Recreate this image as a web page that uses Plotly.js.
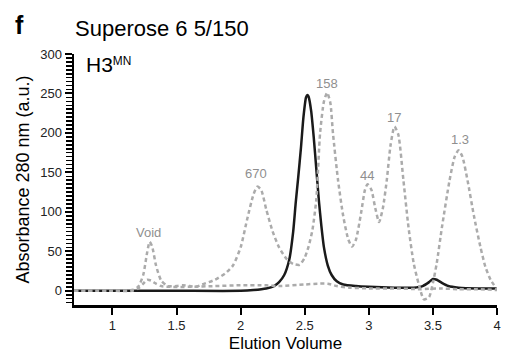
<!DOCTYPE html>
<html>
<head>
<meta charset="utf-8">
<script src="https://cdn.plot.ly/plotly-3.0.1.min.js"></script>
<style>html,body{margin:0;padding:0;background:#fff;}#chart{width:506px;height:356px;}</style>
</head>
<body>
<div id="chart"></div>
<script>
// H3 MN sample trace (solid black)
const sampleX = [0.7, 1.0, 1.5, 2.0, 2.1, 2.2, 2.26, 2.30, 2.34, 2.38, 2.41, 2.43, 2.45, 2.47, 2.49, 2.51, 2.52, 2.53, 2.55, 2.57, 2.59, 2.61, 2.63, 2.65, 2.68, 2.71, 2.75, 2.8, 2.9, 3.0, 3.2, 3.35, 3.42, 3.47, 3.50, 3.53, 3.57, 3.62, 3.7, 3.85, 4.0];
const sampleY = [0, 0, 0, 0, 1, 3, 6, 11, 20, 40, 75, 112, 145, 180, 220, 245, 248, 246, 228, 195, 155, 115, 82, 55, 32, 20, 12, 8, 6, 5, 4, 4, 6, 11, 15, 14, 10, 6, 4, 3, 3];

// Gel filtration standards trace (dashed grey)
const stdX = [0.7, 1.0, 1.15, 1.2, 1.24, 1.27, 1.29, 1.31, 1.34, 1.38, 1.43, 1.5, 1.55, 1.6, 1.65, 1.7, 1.8, 1.88, 1.94, 2.0, 2.05, 2.1, 2.13, 2.16, 2.2, 2.25, 2.3, 2.36, 2.41, 2.46, 2.5, 2.53, 2.56, 2.59, 2.62, 2.65, 2.675, 2.7, 2.72, 2.76, 2.8, 2.84, 2.87, 2.9, 2.94, 2.97, 2.99, 3.02, 3.05, 3.08, 3.11, 3.14, 3.17, 3.2, 3.23, 3.27, 3.31, 3.35, 3.39, 3.43, 3.47, 3.5, 3.53, 3.57, 3.63, 3.67, 3.70, 3.73, 3.77, 3.82, 3.87, 3.91, 3.95, 4.0];
const stdY = [0, 0, 1, 5, 20, 48, 62, 56, 32, 13, 6, 6, 7, 6, 5, 8, 14, 22, 32, 55, 90, 122, 132, 128, 103, 75, 55, 40, 34, 33, 42, 56, 77, 115, 200, 240, 251, 238, 200, 140, 95, 65, 56, 65, 99, 128, 135, 128, 105, 87, 105, 140, 185, 208, 198, 140, 80, 35, 8, -11, -8, 10, 35, 80, 140, 170, 178, 170, 140, 95, 56, 30, 14, 2];

// Second dashed grey trace (baseline run)
const baseX = [0.7, 1.0, 1.15, 1.2, 1.24, 1.27, 1.3, 1.34, 1.38, 1.45, 1.6, 1.8, 2.0, 2.2, 2.3, 2.5, 2.6, 2.68, 2.75, 2.85, 3.0, 3.2, 3.4, 3.55, 3.7, 3.85, 4.0];
const baseY = [0, 0, 0, 3, 9, 14, 13, 9, 6, 5, 5, 6, 7, 7, 6, 8, 9, 9, 6, 4, 3, 3, 2, 3, 2, 2, 1];

// Peak labels (kDa)
const peakLabels = ["Void", "670", "158", "44", "17", "1.3"];
const peakLabelX = [1.285, 2.12, 2.67, 2.985, 3.2, 3.71];
const peakLabelY = [74, 148, 263, 146, 219, 192];

const xTicks = [1, 1.5, 2, 2.5, 3, 3.5, 4];
const xTickText = ["1", "1.5", "2", "2.5", "3", "3.5", "4"];

const grey = "#ababab";
const traces = [
  {x: sampleX, y: sampleY, type: "scatter", mode: "lines", line: {color: "#1a1a1a", width: 2.5, shape: "spline", smoothing: 0.6}, hoverinfo: "none"},
  {x: baseX, y: baseY, type: "scatter", mode: "lines", line: {color: grey, width: 2.5, dash: "4px,3px", shape: "spline", smoothing: 0.6}, hoverinfo: "none"},
  {x: stdX, y: stdY, type: "scatter", mode: "lines", line: {color: grey, width: 2.5, dash: "4px,3px", shape: "spline", smoothing: 0.6}, hoverinfo: "none"}
];

const annotations = peakLabels.map((t, i) => ({
  x: peakLabelX[i], y: peakLabelY[i], xref: "x", yref: "y", text: t, showarrow: false,
  font: {family: "Liberation Sans, Arial, sans-serif", size: 13, color: "#8f8f8f"}, xanchor: "center", yanchor: "middle"
}));
annotations.push({
  xref: "paper", yref: "paper", x: -74/423, y: (305-25)/251, text: "<b>f</b>", showarrow: false,
  xanchor: "left", yanchor: "middle", xshift: 13,
  font: {family: "Liberation Sans, Arial, sans-serif", size: 25, color: "#000"}
});
annotations.push({
  xref: "paper", yref: "paper", x: 10/423, y: (305-65)/251, text: "H3<span style=\"font-size:17px\"><sup>MN</sup></span>", showarrow: false,
  xanchor: "left", yanchor: "middle",
  font: {family: "Liberation Sans, Arial, sans-serif", size: 21, color: "#000"}
});

const layout = {
  width: 506, height: 356,
  margin: {l: 74, r: 9, t: 54, b: 51},
  paper_bgcolor: "#fff", plot_bgcolor: "#fff",
  showlegend: false,
  font: {family: "Liberation Sans, Arial, sans-serif", color: "#222"},
  title: {text: "Superose 6 5/150", xref: "container", yref: "container", x: 75/506, y: 1 - 28/356, xanchor: "left", yanchor: "middle",
    font: {family: "Liberation Sans, Arial, sans-serif", size: 22, color: "#000"}},
  xaxis: {
    range: [0.7, 4.0], tickvals: xTicks, ticktext: xTickText,
    ticks: "outside", ticklen: 7, tickwidth: 2, tickcolor: "#000",
    showline: true, linewidth: 2.5, linecolor: "#000",
    showgrid: false, zeroline: false,
    tickfont: {size: 13, color: "#222"},
    title: {text: "Elution Volume", font: {size: 17, color: "#000"}, standoff: 5}
  },
  yaxis: {
    range: [-18, 300], tick0: 0, dtick: 50,
    ticks: "outside", ticklen: 7, tickwidth: 2, tickcolor: "#000",
    showline: true, linewidth: 2.5, linecolor: "#000",
    showgrid: false, zeroline: false,
    tickfont: {size: 13, color: "#222"},
    minor: {ticks: "outside", dtick: 5, tick0: 0, ticklen: 5.5, tickwidth: 1.6, tickcolor: "#000", showgrid: false},
    title: {text: "Absorbance 280 nm (a.u.)", font: {size: 18, color: "#000"}, standoff: 6}
  },
  annotations: annotations
};

Plotly.newPlot("chart", traces, layout, {staticPlot: true, displayModeBar: false});
</script>
</body>
</html>
